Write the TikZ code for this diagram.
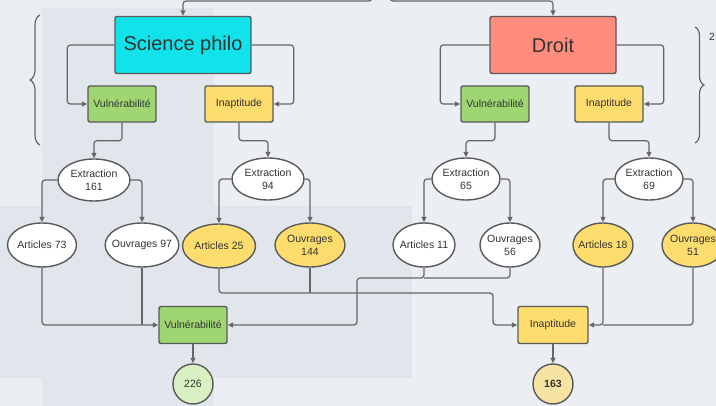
\documentclass[tikz,border=0pt]{standalone}
\usepackage{fontspec}
\setmainfont{Liberation Sans}
\usetikzlibrary{arrows.meta,shapes.geometric,decorations.pathreplacing}
\definecolor{fond}{HTML}{EBEEF2}
\definecolor{zone}{HTML}{E1E6ED}
\definecolor{cyanbox}{HTML}{10E3EA}
\definecolor{saumon}{HTML}{FF8C7C}
\definecolor{vert}{HTML}{9FD672}
\definecolor{jaune}{HTML}{FFDC6E}
\definecolor{vertclair}{HTML}{D8F1C3}
\definecolor{jauneclair}{HTML}{F9E3A3}
\definecolor{trait}{HTML}{666666}
\definecolor{bord}{HTML}{5A5A5A}
\definecolor{texte}{HTML}{333333}
\begin{document}
\begin{tikzpicture}[x=1pt,y=-1pt,
  every node/.style={text=texte,font=\fontsize{10.5}{13}\selectfont},
  boite/.style={draw=bord,line width=1.4pt,rounded corners=2pt,minimum width=68pt,minimum height=36pt,inner sep=0pt},
  grande/.style={boite,minimum width=136pt,minimum height=57pt,font=\fontsize{20}{24}\selectfont},
  bulle/.style={ellipse,draw=bord,line width=1.4pt,fill=white,inner xsep=-4pt,inner ysep=0pt,minimum height=44pt,align=center},
  rond/.style={circle,draw=bord,line width=1.4pt,minimum size=40pt,inner sep=0pt},
  lien/.style={draw=trait,line width=1.2pt,rounded corners=3pt},
  fleche/.style={lien,-{Triangle[length=5.5pt,width=5pt]}}]
  % Fond
  \useasboundingbox (0,0) rectangle (716,406);
  \fill[fond] (0,0) rectangle (716,406);
  \fill[zone] (42,8) rectangle (214,406);
  \fill[zone] (0,206) rectangle (412,378);
  % Accolades
  \draw[trait,line width=1.2pt,decorate,decoration={brace,amplitude=10pt}] (40,145) -- (40,15);
  \draw[trait,line width=1.2pt,decorate,decoration={brace,amplitude=9pt}] (695,27) -- (695,143);
  \node[anchor=west,inner sep=0pt] (deux) at (709,37) {2};
  % Disciplines
  \node[grande,fill=cyanbox] (sp) at (183,45) {Science philo};
  \node[grande,fill=saumon,minimum width=126pt] (dr) at (553,45) {Droit};
  % Catégories
  \node[boite,fill=vert] (spv) at (122,104) {Vulnérabilité};
  \node[boite,fill=jaune] (spi) at (239,104) {Inaptitude};
  \node[boite,fill=vert] (drv) at (495,104) {Vulnérabilité};
  \node[boite,fill=jaune] (dri) at (609,104) {Inaptitude};
  % Extractions
  \node[bulle,minimum width=72pt,minimum height=42pt] (spve) at (94,180) {Extraction\\161};
  \node[bulle,minimum width=72pt,minimum height=42pt] (spie) at (268,179) {Extraction\\94};
  \node[bulle,minimum width=68pt,minimum height=42pt] (drve) at (466,179) {Extraction\\65};
  \node[bulle,minimum width=68pt,minimum height=42pt] (drie) at (649,179) {Extraction\\69};
  % Articles et ouvrages
  \node[bulle,minimum width=69pt] (spva) at (42,245) {Articles 73};
  \node[bulle,minimum width=73pt] (spvo) at (142,245) {Ouvrages 97};
  \node[bulle,minimum width=73pt,fill=jaune] (spia) at (219,246) {Articles 25};
  \node[bulle,minimum width=70pt,fill=jaune] (spio) at (310,245) {Ouvrages\\144};
  \node[bulle,minimum width=62pt] (drva) at (424,245) {Articles 11};
  \node[bulle,minimum width=60pt] (drvo) at (510,245) {Ouvrages\\56};
  \node[bulle,minimum width=60pt,fill=jaune] (dria) at (603,245) {Articles 18};
  \node[bulle,minimum width=62pt,fill=jaune] (drio) at (693,245) {Ouvrages\\51};
  % Totaux
  \node[boite,fill=vert,minimum height=37pt] (vtot) at (193,325) {Vulnérabilité};
  \node[boite,fill=jaune,minimum width=70pt,minimum height=37pt] (itot) at (553,325) {Inaptitude};
  \node[rond,fill=vertclair] (vnum) at (193,384) {226};
  \node[rond,fill=jauneclair] (inum) at (553,384) {\bfseries 163};
  % Liens d'en haut
  \coordinate (hautg) at (372,-10);
  \coordinate (hautd) at (390,-10);
  \draw[fleche] (hautg) -- ++(0,11) -| (sp);
  \draw[fleche] (hautd) -- ++(0,11) -| (dr);
  % Disciplines vers catégories
  \draw[fleche] (sp.west) -- ++(-47,0) |- (spv);
  \draw[fleche] (sp.east) -- ++(42,0) |- (spi);
  \draw[fleche] (dr.west) -- ++(-49,0) |- (drv);
  \draw[fleche] (dr.east) -- ++(47,0) |- (dri);
  % Catégories vers extractions
  \draw[fleche] (spv.south) -- ++(0,18) -| (spve);
  \draw[fleche] (spi.south) -- ++(0,18) -| (spie);
  \draw[fleche] (drv.south) -- ++(0,18) -| (drve);
  \draw[fleche] (dri.south) -- ++(0,18) -| (drie);
  % Extractions vers articles et ouvrages
  \draw[fleche] (spve.west) -| (spva);
  \draw[fleche] (spve.east) -| (spvo);
  \draw[fleche] (spie.west) -| (spia);
  \draw[fleche] (spie.east) -| (spio);
  \draw[fleche] (drve.west) -| (drva);
  \draw[fleche] (drve.east) -| (drvo);
  \draw[fleche] (drie.west) -| (dria);
  \draw[fleche] (drie.east) -| (drio);
  % Vers les totaux
  \coordinate (coudeI) at (493,293);
  \coordinate (coudeV) at (357,278);
  \draw[fleche] (spva) |- (vtot);
  \draw[lien] (spvo) -- (spvo |- vtot);
  \draw[fleche] (spia) |- (coudeI) |- (itot);
  \draw[lien] (spio) -- (spio |- coudeI);
  \draw[fleche] (drva) |- (coudeV) |- (vtot);
  \draw[lien] (drvo) |- (drva |- coudeV);
  \draw[fleche] (dria) |- (itot);
  \draw[lien] (drio) |- (dria |- itot);
  \draw[fleche] (vtot) -- (vnum);
  \draw[fleche] (itot) -- (inum);
\end{tikzpicture}
\end{document}
